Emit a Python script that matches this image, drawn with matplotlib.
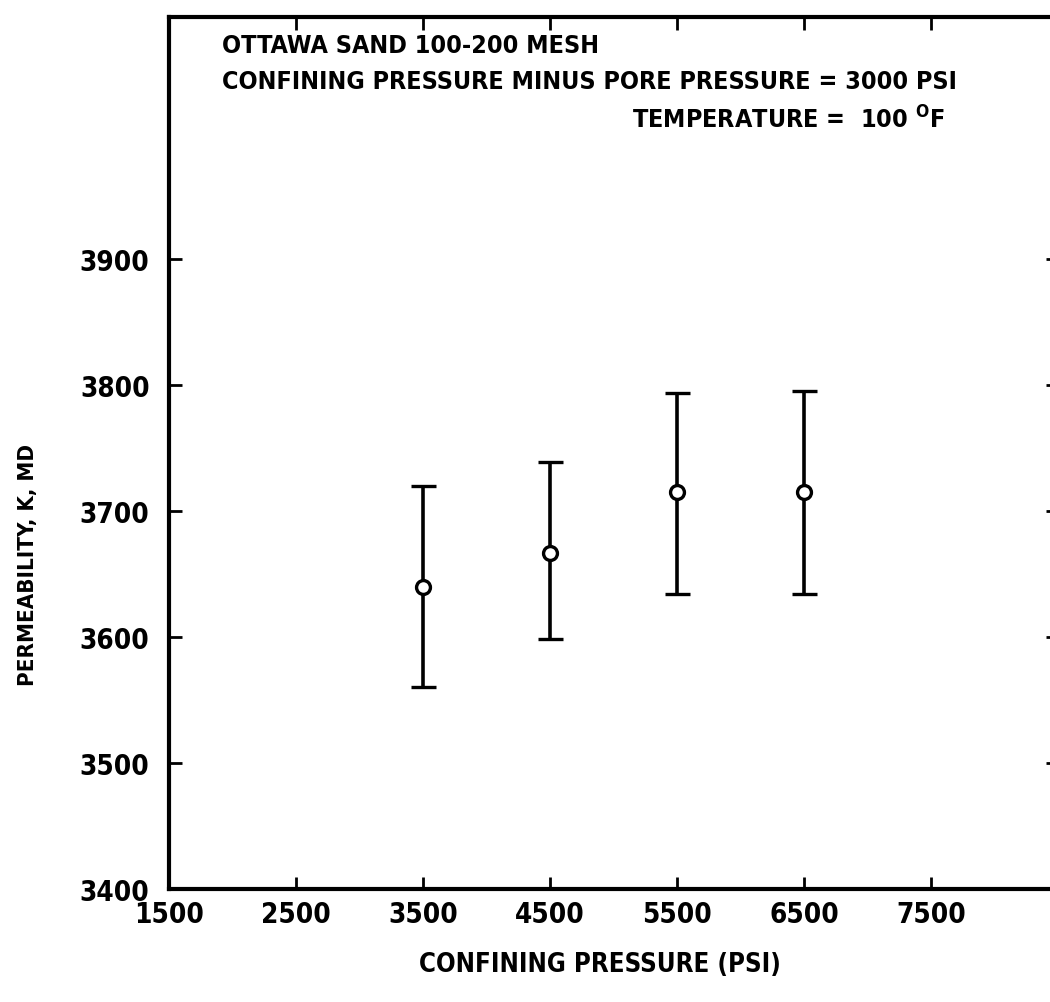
import matplotlib

matplotlib.use("Agg")
import matplotlib.pyplot as plt

# data
pressure = [3500, 4500, 5500, 6500]
perm = [3640, 3667, 3715, 3715]
perm_hi = [3720, 3739, 3794, 3795]
perm_lo = [3560, 3598, 3634, 3634]

xticks = [1500, 2500, 3500, 4500, 5500, 6500, 7500]
yticks = [3400, 3500, 3600, 3700, 3800, 3900]

plt.rcParams.update(
    {
        "font.family": ["DejaVu Sans"],
        "font.stretch": "condensed",
        "font.weight": "bold",
        "axes.labelweight": "bold",
        "font.size": 15,
    }
)

fig = plt.figure(figsize=(10.5, 10.03), dpi=100)
ax = fig.add_axes([0.161, 0.1127, 0.8466, 0.8693])

err = [[m - lo for m, lo in zip(perm, perm_lo)], [hi - m for m, hi in zip(perm, perm_hi)]]
ax.errorbar(
    pressure,
    perm,
    yerr=err,
    fmt="o",
    color="black",
    mfc="white",
    mec="black",
    mew=2.4,
    ms=10,
    elinewidth=2.6,
    capsize=9,
    capthick=3,
)

ax.set_xlim(1500, 8500)
ax.set_ylim(3400, 4092)
ax.set_xticks(xticks)
ax.set_yticks(yticks)
ax.tick_params(
    direction="in",
    length=9,
    width=2,
    top=True,
    right=True,
    labelsize=20,
)
ax.tick_params(axis="x", pad=8)
ax.tick_params(axis="y", pad=14)
for s in ax.spines.values():
    s.set_linewidth(3)

# axis titles placed where the scan has them
fig.text(600 / 1050, 1 - 965 / 1003, "CONFINING PRESSURE (PSI)", fontsize=18.5,
         ha="center", va="center")
fig.text(28 / 1050, 1 - 565 / 1003, "PERMEABILITY, K, MD", fontsize=16,
         rotation=90, ha="center", va="center")

ax.text(0.06, 0.968, "OTTAWA SAND 100-200 MESH", transform=ax.transAxes, fontsize=18, va="center")
ax.text(
    0.06,
    0.927,
    "CONFINING PRESSURE MINUS PORE PRESSURE = 3000 PSI",
    transform=ax.transAxes,
    fontsize=18,
    va="center",
)
ax.text(0.873, 0.883, "TEMPERATURE =  100 $^{\\mathbf{O}}$F", transform=ax.transAxes,
        fontsize=18, va="center", ha="right")

fig.savefig("out.png", dpi=100)
